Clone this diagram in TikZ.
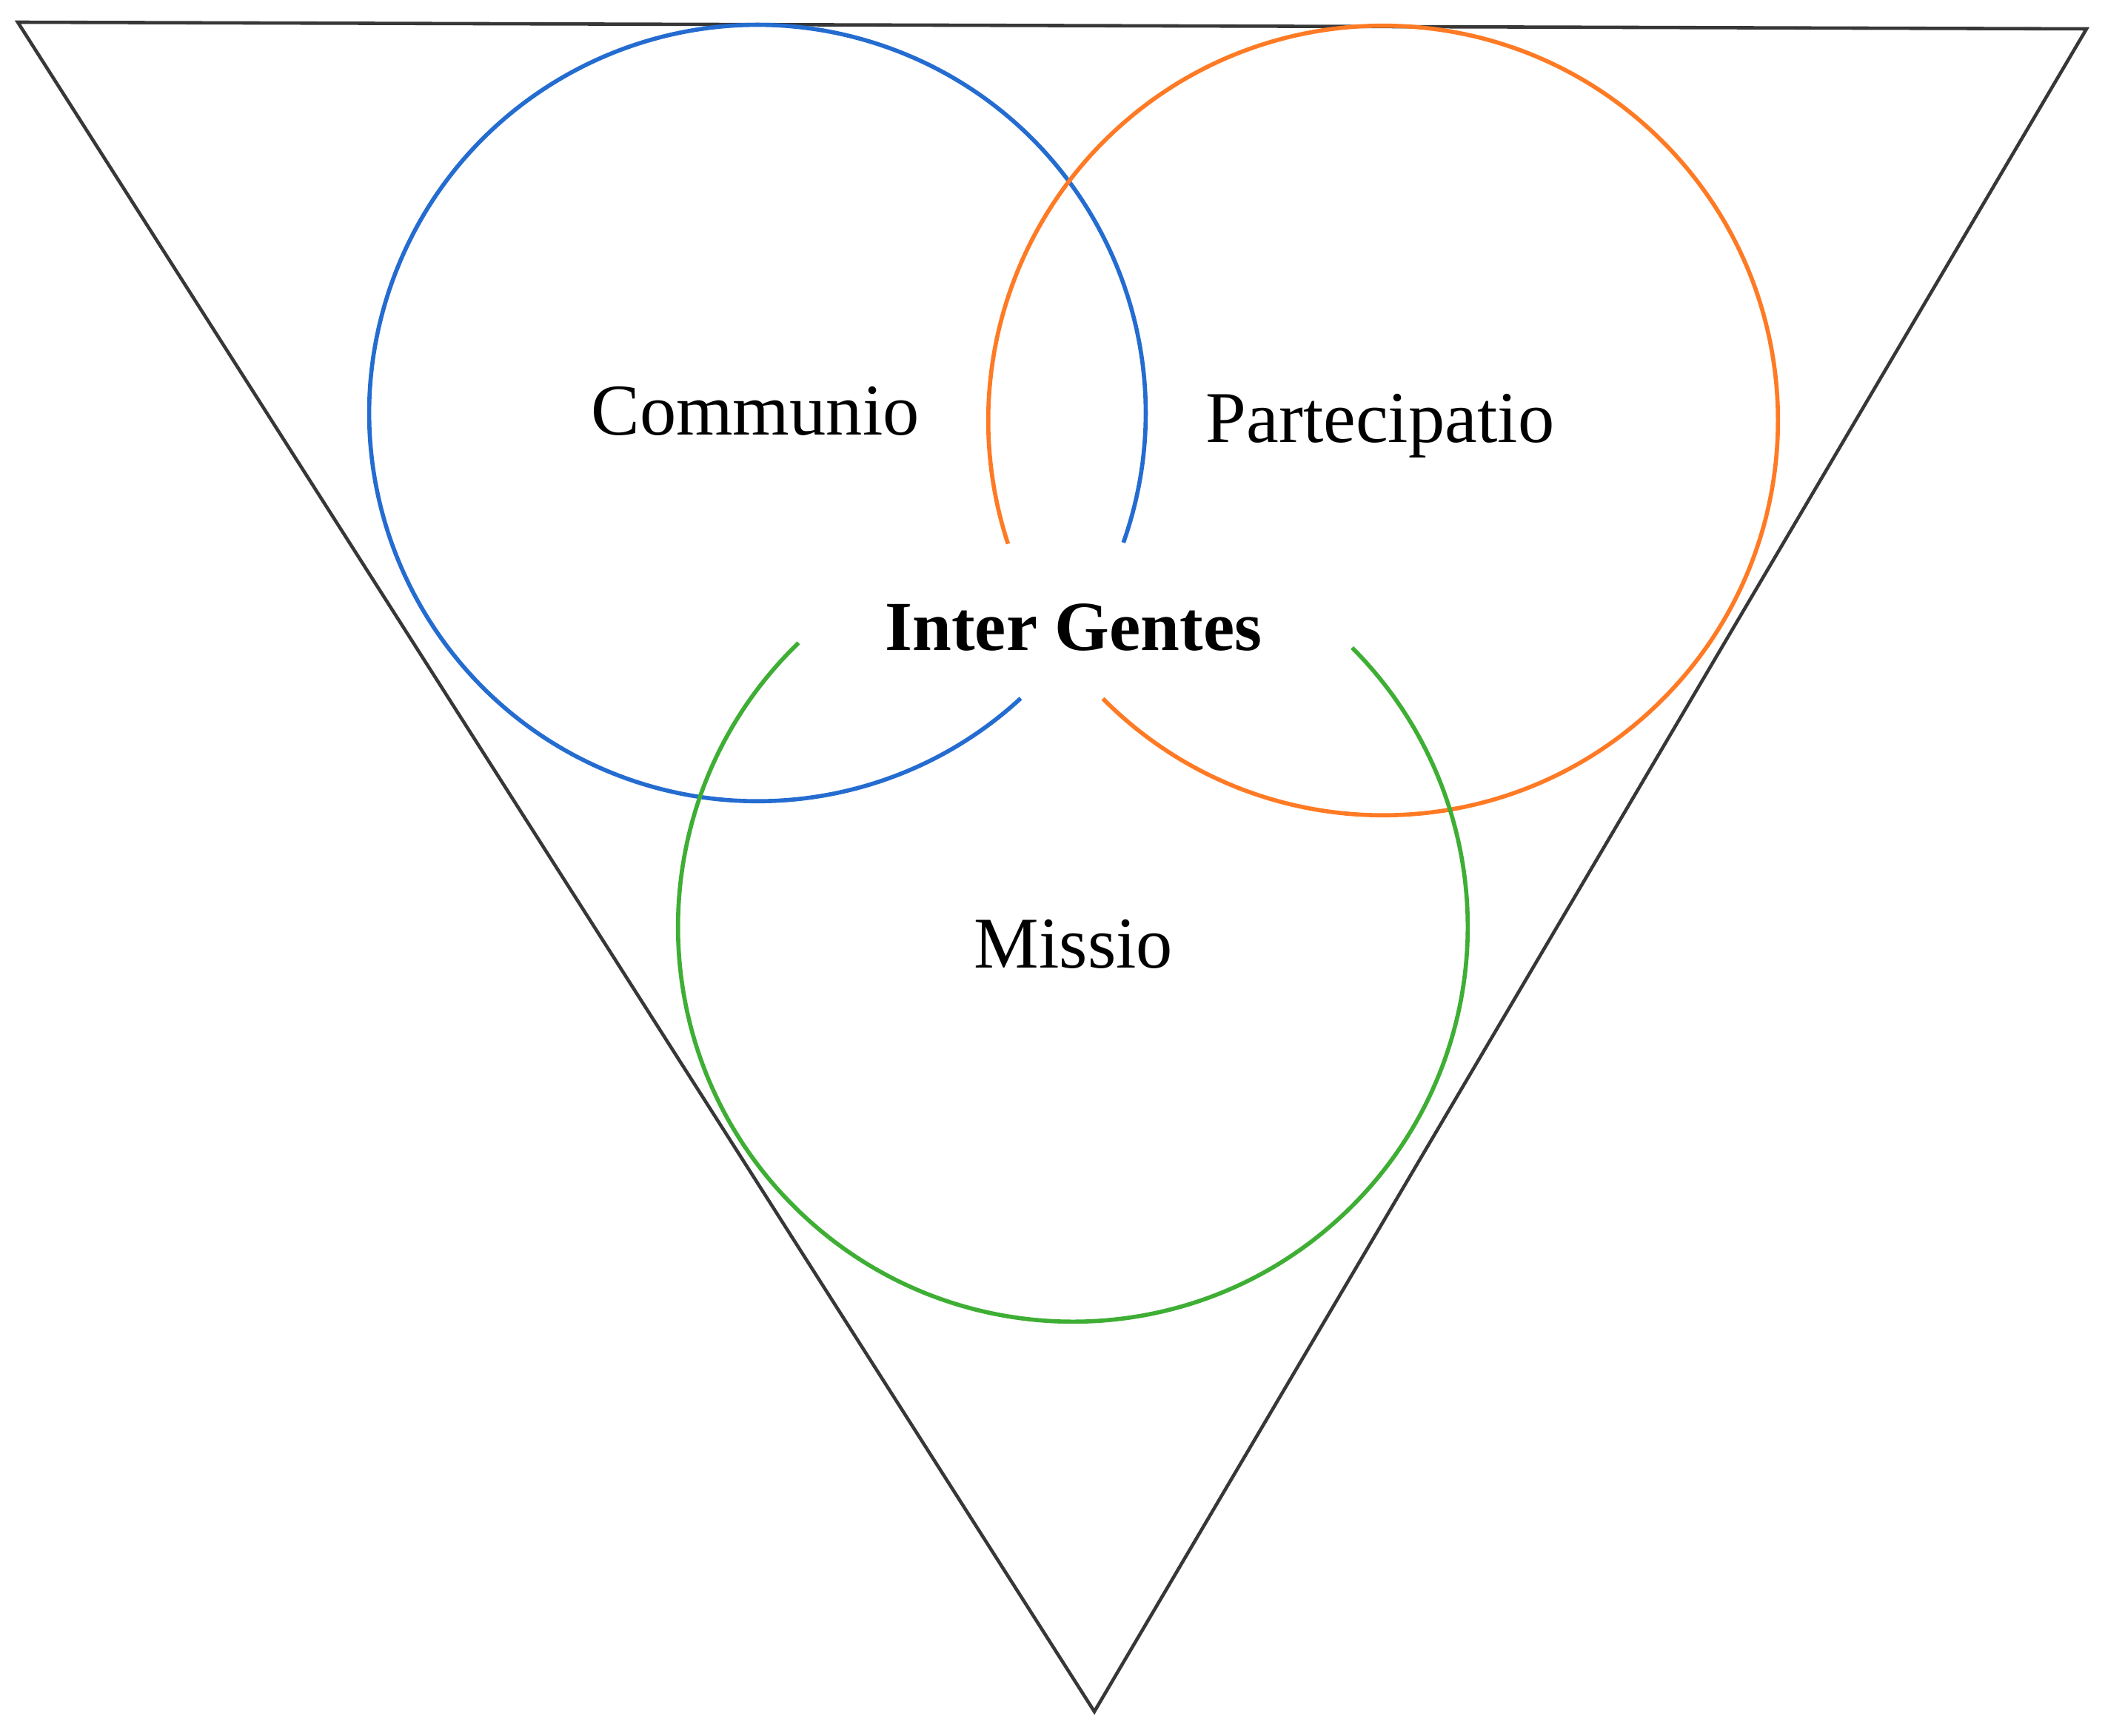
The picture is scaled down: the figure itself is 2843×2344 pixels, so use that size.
\documentclass[tikz,border=0pt]{standalone}
\usepackage{fontspec}
\setmainfont{Liberation Serif}
\definecolor{cblue}{RGB}{36,108,208}
\definecolor{corange}{RGB}{255,122,36}
\definecolor{cgreen}{RGB}{62,174,52}
\definecolor{cgray}{RGB}{55,55,55}
\tikzset{
  ring/.style={line width=1.6pt},
  tri/.style={draw=cgray, line width=1.3pt, line join=miter},
  lbl/.style={anchor=base, inner sep=0pt, font=\fontsize{28}{32}\selectfont},
  boldlbl/.style={anchor=base, inner sep=0pt, font=\fontsize{27}{32}\selectfont\bfseries}
}
\begin{document}
\begin{tikzpicture}[x=0.01cm, y=0.01cm]
\useasboundingbox (0,0) rectangle (2843,2344);
% triangle
\coordinate (tl) at (24,2314);
\coordinate (tr) at (2818,2305);
\coordinate (bt) at (1478,32);
\draw[tri] (tl) -- (tr) -- (bt) -- cycle;
% circle centres
\coordinate (cb) at (1023,1786);
\coordinate (co) at (1868,1776);
\coordinate (cg) at (1449,1092);
% circles with gaps
\draw[ring, cblue] (cb) ++(-19.5:5.24cm) arc[start angle=-19.5, end angle=312.7, radius=5.24cm];
\draw[ring, corange] (co) ++(224.8:5.33cm) arc[start angle=224.8, end angle=558.2, radius=5.33cm];
\draw[ring, cgreen] (cg) ++(134:5.33cm) arc[start angle=134, end angle=405, radius=5.33cm];
% labels
\node[lbl] (communio) at (1020,1756) {Communio};
\node[lbl] (partecipatio) at (1864,1746) {Partecipatio};
\node[boldlbl] (inter) at (1450,1465) {Inter Gentes};
\node[lbl] (missio) at (1450,1037) {Missio};
\end{tikzpicture}
\end{document}
